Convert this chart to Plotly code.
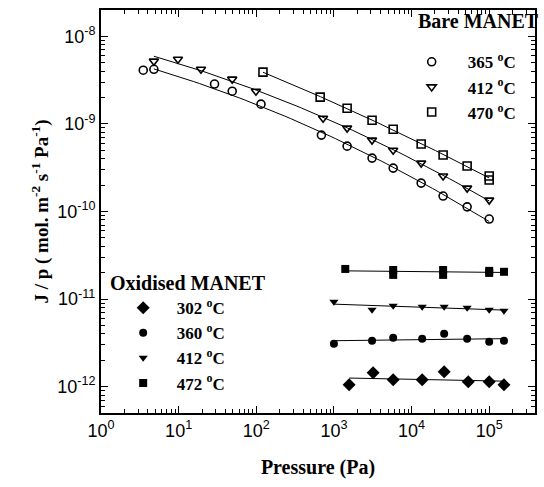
import numpy as np
import plotly.graph_objects as go

# ---------------- data ----------------
# Bare MANET
bare365_p = [3.5, 4.8, 29, 49, 115, 690, 1480, 3100, 5800, 13300, 25500, 52000, 100000]
bare365_j = [4.1e-9, 4.2e-9, 2.85e-9, 2.36e-9, 1.68e-9, 7.45e-10, 5.57e-10, 4.07e-10,
             3.13e-10, 2.11e-10, 1.50e-10, 1.13e-10, 8.2e-11]
bare412_p = [4.8, 9.8, 19.4, 49, 99, 725, 1480, 3100, 5800, 13300, 25500, 52000, 100000]
bare412_j = [5.2e-9, 5.47e-9, 4.2e-9, 3.24e-9, 2.36e-9, 1.16e-9, 8.95e-10, 6.53e-10,
             5.0e-10, 3.57e-10, 2.54e-10, 1.85e-10, 1.35e-10]
bare470_p = [122, 665, 1480, 3100, 5800, 13300, 25500, 52000, 100000, 100000]
bare470_j = [3.9e-9, 2.02e-9, 1.51e-9, 1.10e-9, 8.7e-10, 5.9e-10, 4.41e-10, 3.3e-10,
             2.54e-10, 2.29e-10]

# Oxidised MANET
ox302_p = [1570, 3200, 5800, 13700, 26300, 53700, 100000, 155000]
ox302_j = [1.05e-12, 1.44e-12, 1.20e-12, 1.20e-12, 1.48e-12, 1.14e-12, 1.14e-12, 1.05e-12]
ox360_p = [1000, 3100, 5800, 13700, 26300, 52000, 100000, 155000]
ox360_j = [3.09e-12, 3.34e-12, 3.61e-12, 3.52e-12, 4.02e-12, 3.52e-12, 3.26e-12, 3.34e-12]
ox412_p = [1000, 3100, 5800, 13700, 26300, 52000, 100000, 155000]
ox412_j = [9.3e-12, 7.55e-12, 8.38e-12, 8.17e-12, 8.17e-12, 7.95e-12, 7.55e-12, 7.35e-12]
ox472_p = [1400, 5800, 5800, 25500, 25500, 100000, 100000, 155000]
ox472_j = [2.21e-11, 2.15e-11, 1.89e-11, 2.15e-11, 1.89e-11, 2.10e-11, 1.99e-11, 2.05e-11]

bare_title = "Bare MANET"
ox_title = "Oxidised MANET"
bare_labels = ["365 <sup>o</sup>C", "412 <sup>o</sup>C", "470 <sup>o</sup>C"]
ox_labels = ["302 <sup>o</sup>C", "360 <sup>o</sup>C", "412 <sup>o</sup>C", "472 <sup>o</sup>C"]

x_tickvals = [1, 10, 100, 1000, 1e4, 1e5]
x_ticktext = ["10<sup>0</sup>", "10<sup>1</sup>", "10<sup>2</sup>", "10<sup>3</sup>",
              "10<sup>4</sup>", "10<sup>5</sup>"]
y_tickvals = [1e-12, 1e-11, 1e-10, 1e-9, 1e-8]
y_ticktext = ["10<sup>-12</sup>", "10<sup>-11</sup>", "10<sup>-10</sup>", "10<sup>-9</sup>",
              "10<sup>-8</sup>"]

SERIF = "Liberation Serif, Times New Roman, serif"
SANS = "Liberation Sans, Arial, sans-serif"

fig = go.Figure()


def fit_line(p, j, deg, start_idx=0):
    lp = np.log10(p)
    lj = np.log10(j)
    c = np.polyfit(lp, lj, deg)
    xs = np.linspace(lp[start_idx], lp[-1], 60)
    return 10 ** xs, 10 ** np.polyval(c, xs)


# fit lines
for p, j, deg, s in [(bare365_p, bare365_j, 2, 1), (bare412_p, bare412_j, 2, 0),
                     (bare470_p, bare470_j, 2, 0),
                     (ox302_p, ox302_j, 1, 0), (ox360_p, ox360_j, 1, 0),
                     (ox412_p, ox412_j, 1, 0), (ox472_p, ox472_j, 1, 0)]:
    fx, fy = fit_line(p, j, deg, s)
    fig.add_trace(go.Scatter(x=fx, y=fy, mode="lines", line=dict(color="black", width=1),
                             showlegend=False, hoverinfo="skip"))

# bare markers
for p, j, sym, lab in [(bare365_p, bare365_j, "circle-open", bare_labels[0]),
                       (bare412_p, bare412_j, "triangle-down-open", bare_labels[1]),
                       (bare470_p, bare470_j, "square-open", bare_labels[2])]:
    fig.add_trace(go.Scatter(x=p, y=j, mode="markers", name="<b>" + lab + "</b>", legend="legend",
                             marker=dict(symbol=sym, size=8, color="black",
                                         line=dict(color="black", width=1.6))))

# oxidised markers
for p, j, sym, sz, lab in [(ox302_p, ox302_j, "diamond", 10, ox_labels[0]),
                           (ox360_p, ox360_j, "circle", 8, ox_labels[1]),
                           (ox412_p, ox412_j, "triangle-down", 8, ox_labels[2]),
                           (ox472_p, ox472_j, "square", 8, ox_labels[3])]:
    fig.add_trace(go.Scatter(x=p, y=j, mode="markers", name="<b>" + lab + "</b>", legend="legend2",
                             marker=dict(symbol=sym, size=sz, color="black",
                                         line=dict(width=0))))

axis_common = dict(
    type="log", showline=True, linecolor="black", linewidth=2, mirror="allticks",
    ticks="inside", ticklen=7, tickwidth=1.2, tickcolor="black",
    showgrid=False, zeroline=False, tickmode="array", automargin=False,
    tickfont=dict(family=SANS, size=18, color="black"),
    minor=dict(ticks="inside", ticklen=4, tickwidth=1, tickcolor="black", dtick="D1", showgrid=False),
)

fig.update_xaxes(**axis_common, range=[0, 5.59], tickvals=x_tickvals, ticktext=x_ticktext,
                 title=dict(text="<b>Pressure (Pa)</b>", font=dict(family=SERIF, size=20, color="black"),
                            standoff=20))
fig.update_yaxes(**axis_common, range=[-12.30, -7.70], tickvals=y_tickvals, ticktext=y_ticktext,
                 title=dict(text="<b>J / p ( mol. m<sup>-2</sup> s<sup>-1</sup> Pa<sup>-1</sup>)</b>",
                            font=dict(family=SERIF, size=19, color="black"), standoff=4))

fig.add_annotation(text="<b>" + bare_title + "</b>", xref="paper", yref="paper",
                   x=1.014, y=0.973, xanchor="right", yanchor="middle", showarrow=False,
                   font=dict(family=SERIF, size=20, color="black"))
fig.add_annotation(text="<b>" + ox_title + "</b>", xref="paper", yref="paper",
                   x=0.015, y=0.323, xanchor="left", yanchor="middle", showarrow=False,
                   font=dict(family=SERIF, size=20, color="black"))

fig.update_layout(
    width=544, height=487,
    margin=dict(l=101, r=9, t=10, b=74),
    paper_bgcolor="white", plot_bgcolor="white",
    legend=dict(
        font=dict(family=SERIF, size=17, color="black"),
        x=0.967, xanchor="right", y=0.915, yanchor="top",
        bgcolor="rgba(0,0,0,0)", itemwidth=62, tracegroupgap=0,
    ),
    legend2=dict(
        font=dict(family=SERIF, size=17, color="black"),
        x=0.02, xanchor="left", y=0.305, yanchor="top",
        bgcolor="rgba(0,0,0,0)", itemwidth=57, tracegroupgap=0,
    ),
    showlegend=True,
)

fig.write_html("out.html", config={"displayModeBar": False},
               post_script="document.body.style.margin='0';document.body.style.padding='0';")
